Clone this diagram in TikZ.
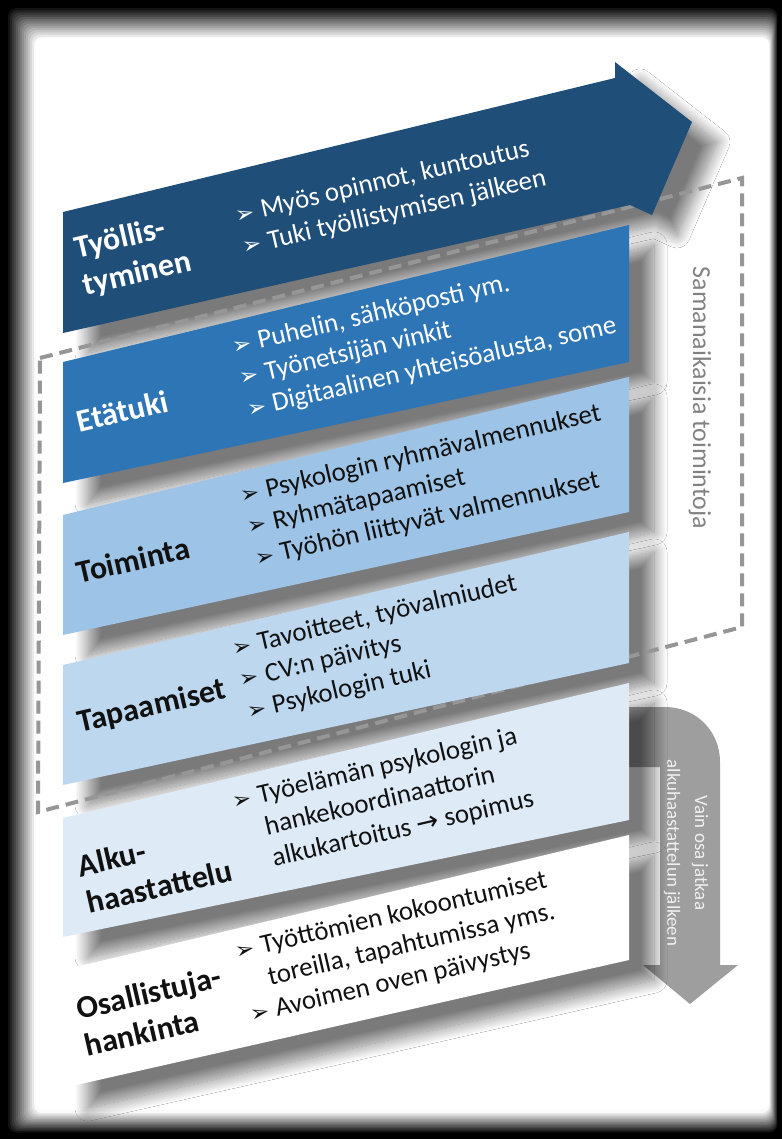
\documentclass[tikz,border=0pt]{standalone}
\usepackage{fontspec}
\setmainfont{Carlito}
\newfontfamily\dejavu{DejaVu Sans}
\usepackage{xcolor}
\usetikzlibrary{positioning, shadows.blur}

\definecolor{navyband}{RGB}{31,78,121}
\definecolor{blueband}{RGB}{46,117,182}
\definecolor{lightband}{RGB}{157,195,230}
\definecolor{paleband}{RGB}{189,215,238}
\definecolor{mistband}{RGB}{222,235,247}
\definecolor{dashgray}{RGB}{150,150,150}
\definecolor{notegray}{RGB}{130,130,130}
\definecolor{flowgray}{RGB}{158,158,158}
\definecolor{inkblack}{RGB}{17,17,17}

\newcommand{\bul}{\makebox[26bp][l]{\dejavu\fontsize{23}{23}\selectfont ➢}}
\newcommand{\cont}{\hspace*{26bp}}

\tikzset{
  bandshade/.style={blur shadow={shadow xshift=25bp, shadow yshift=-20bp,
      shadow blur radius=13bp, shadow blur steps=20, shadow opacity=52}},
  steplabel/.style={font=\fontsize{32}{38}\selectfont\bfseries, rotate=13,
      align=left, inner sep=0pt, text=#1},
  itemlist/.style={font=\fontsize{27}{32.5}\selectfont, rotate=13,
      align=left, inner sep=0pt, anchor=north west, text=#1},
  framedash/.style={dashgray, line width=4bp, dash pattern=on 13bp off 7bp},
}

\begin{document}
\begin{tikzpicture}[x=1bp, y=-1bp]
    \useasboundingbox (0,0) rectangle (782,1139);

    % dark frame round the sheet
    \fill[black] (0,0) rectangle (782,1139);
    \foreach \k in {0,...,14} {
        \pgfmathsetmacro{\p}{7*\k}
        \fill[white!\p!black, rounded corners=8bp]
            (6+2*\k, 6+2.2*\k) rectangle (778-0.6*\k, 1134-1.5*\k);
    }
    \fill[white, rounded corners=8bp] (36,38) rectangle (769,1110);

    % gray bent arrow behind the two lowest bands
    \fill[flowgray] (628,707) -- (665,707) .. controls (696,707) and (720,731) .. (720,762)
        -- (720,965) -- (738,965) -- (690,1004) -- (643,965) -- (660,965)
        -- (660,767) -- (628,767) -- cycle;
    \node[rotate=-90, align=center, text=white!88!gray,
          font=\fontsize{19}{28}\selectfont] (onlypart) at (686,853)
        {Vain osa jatkaa\\alkuhaastattelun jälkeen};

    % shadows first
    \path[bandshade] (63,212) -- (615,78) -- (615,62) -- (692,122) -- (652,215)
        -- (630,205) -- (63,333) -- cycle;
    \foreach \col/\tl/\tr/\br/\bl in {blueband/362/225/362/483,
            lightband/515/377/512/635, paleband/665/532/663/785,
            mistband/818/683/820/937, white/970/835/960/1088}
        \path[bandshade] (63,\tl) -- (629,\tr) -- (629,\br) -- (63,\bl) -- cycle;

    % dashed group: simultaneous actions
    \draw[framedash] (40,358) -- (742,178) -- (742,627) -- (38,812) -- cycle;
    \node[rotate=-90, text=notegray, font=\fontsize{26}{30}\selectfont]
        (simult) at (700,398) {Samanaikaisia toimintoja};

    % bands
    \fill[navyband] (63,212) -- (615,78) -- (615,62) -- (692,122) -- (652,215)
        -- (630,205) -- (63,333) -- cycle;
    \foreach \col/\tl/\tr/\br/\bl in {blueband/362/225/362/483,
            lightband/515/377/512/635, paleband/665/532/663/785,
            mistband/818/683/820/937, white/970/835/960/1088}
        \fill[\col] (63,\tl) -- (629,\tr) -- (629,\br) -- (63,\bl) -- cycle;

    % labels
    \node[steplabel=white] (tyoLabel) at (133,256) {Työllis-\\tyminen};
    \node[steplabel=white] (etaLabel) at (122,411) {Etätuki};
    \node[steplabel=inkblack] (toiLabel) at (133,560) {Toiminta};
    \node[steplabel=inkblack] (tapLabel) at (152,707) {Tapaamiset};
    \node[steplabel=inkblack] (alkLabel) at (155,868) {Alku-\\haastattelu};
    \node[steplabel=inkblack] (osaLabel) at (153,1011) {Osallistuja-\\hankinta};

    % bullet lists
    \node[itemlist=white] (tyoList) at (233,205)
        {\bul Myös opinnot, kuntoutus\\\bul Tuki työllistymisen jälkeen};
    \node[itemlist=white] (etaList) at (230,336)
        {\bul Puhelin, sähköposti ym.\\\bul Työnetsijän vinkit\\
         \bul Digitaalinen yhteisöalusta, some};
    \node[itemlist=inkblack] (toiList) at (238,485)
        {\bul Psykologin ryhmävalmennukset\\\bul Ryhmätapaamiset\\
         \bul Työhön liittyvät valmennukset};
    \node[itemlist=inkblack] (tapList) at (230,638)
        {\bul Tavoitteet, työvalmiudet\\\bul CV:n päivitys\\\bul Psykologin tuki};
    \node[itemlist=inkblack] (alkList) at (230,791)
        {\bul Työelämän psykologin ja\\\cont hankekoordinaattorin\\
         \cont alkukartoitus {\dejavu →} sopimus};
    \node[itemlist=inkblack] (osaList) at (233,941)
        {\bul Työttömien kokoontumiset\\\cont toreilla, tapahtumissa yms.\\
         \bul Avoimen oven päivystys};
\end{tikzpicture}
\end{document}
